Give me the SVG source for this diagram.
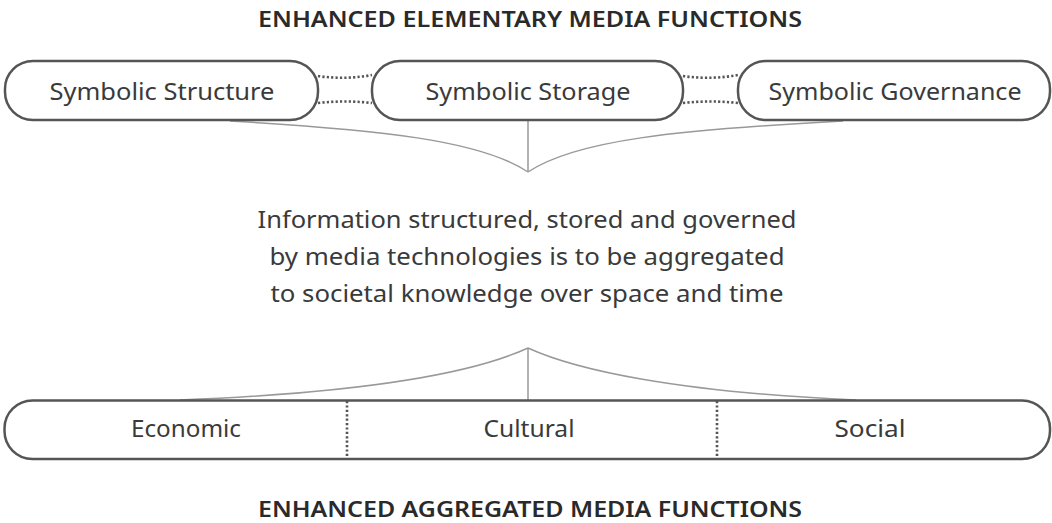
<svg xmlns="http://www.w3.org/2000/svg" width="1052" height="523" viewBox="0 0 1052 523">
<style>
.box{fill:#fff;stroke:#555;stroke-width:2.5}
.title{font-family:"Noto Sans",sans-serif;font-weight:600;font-size:22px;fill:#2a2a2a;text-anchor:middle}
.lbl{font-family:"Noto Sans",sans-serif;font-size:24px;fill:#3a3a3a;text-anchor:middle}
.body{font-family:"Noto Sans",sans-serif;font-size:23px;fill:#3a3a3a;text-anchor:middle}
.dot{fill:none;stroke:#555;stroke-width:2.6;stroke-dasharray:2.2 2.2}
.brace{fill:none;stroke:#999;stroke-width:1.5}
</style>
<rect width="1052" height="523" fill="#fff"/>
<text class="title" x="530" y="27" textLength="544" lengthAdjust="spacingAndGlyphs">ENHANCED ELEMENTARY MEDIA FUNCTIONS</text>
<g id="connectors">
<path class="dot" d="M318,76 Q345,80 372,75"/>
<path class="dot" d="M318,103 Q345,100 372,103"/>
<path class="dot" d="M683,76 Q710,80 738,75"/>
<path class="dot" d="M683,103 Q710,100 738,103"/>
<path class="brace" d="M230,121 C380,130 480,140 528,172"/>
<path class="brace" d="M843,121 C676,130 576,140 528,172"/>
<path class="brace" d="M528,121 V172"/>
<path class="brace" d="M528,348 C480,370 380,392 180,400"/>
<path class="brace" d="M528,348 C576,370 676,392 856,400"/>
<path class="brace" d="M528,348 V400"/>
</g>
<g id="node-structure">
<rect class="box" x="5" y="61" width="313" height="59" rx="28"/>
<text class="lbl" x="162" y="100" textLength="225" lengthAdjust="spacingAndGlyphs">Symbolic Structure</text>
</g>
<g id="node-storage">
<rect class="box" x="372" y="61" width="311" height="59" rx="28"/>
<text class="lbl" x="528" y="100" textLength="205" lengthAdjust="spacingAndGlyphs">Symbolic Storage</text>
</g>
<g id="node-governance">
<rect class="box" x="738" y="61" width="312" height="59" rx="28"/>
<text class="lbl" x="895" y="100" textLength="253" lengthAdjust="spacingAndGlyphs">Symbolic Governance</text>
</g>
<g id="node-text">
<text class="body" x="527" y="228" textLength="539" lengthAdjust="spacingAndGlyphs">Information structured, stored and governed</text>
<text class="body" x="527" y="265" textLength="515" lengthAdjust="spacingAndGlyphs">by media technologies is to be aggregated</text>
<text class="body" x="527" y="302" textLength="513" lengthAdjust="spacingAndGlyphs">to societal knowledge over space and time</text>
</g>
<g id="node-aggregated">
<rect class="box" x="4.5" y="400.5" width="1045.5" height="58.5" rx="28"/>
<line x1="347" y1="401" x2="347" y2="458" class="dot" stroke-dasharray="2.2 3"/>
<line x1="717" y1="401" x2="717" y2="458" class="dot" stroke-dasharray="2.2 3"/>
<text class="lbl" x="186" y="437" textLength="110" lengthAdjust="spacingAndGlyphs">Economic</text>
<text class="lbl" x="529" y="437" textLength="91" lengthAdjust="spacingAndGlyphs">Cultural</text>
<text class="lbl" x="870" y="437" textLength="71" lengthAdjust="spacingAndGlyphs">Social</text>
</g>
<text class="title" x="530" y="517" textLength="544" lengthAdjust="spacingAndGlyphs">ENHANCED AGGREGATED MEDIA FUNCTIONS</text>
</svg>
